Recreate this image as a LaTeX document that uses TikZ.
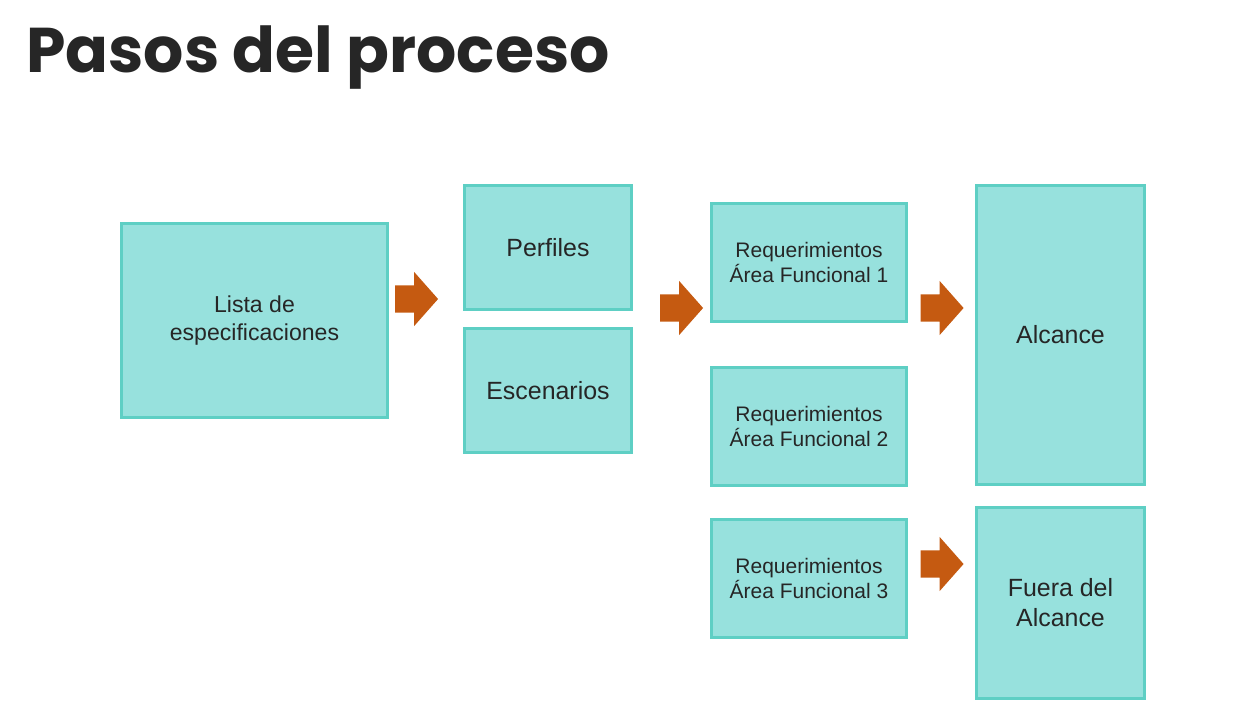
\documentclass[tikz,border=0pt]{standalone}
\usepackage{fontspec}
\setmainfont{Liberation Sans}
\newfontfamily\titlefont{Poppins}
\usepackage{xcolor}
\usetikzlibrary{shapes.arrows}
\definecolor{boxfill}{HTML}{97E1DD}
\definecolor{boxline}{HTML}{5ECFC4}
\definecolor{arrowc}{HTML}{C55A11}
\definecolor{textc}{HTML}{262626}
\def\u{0.75pt}

\begin{document}
\begin{tikzpicture}[x=0.75pt, y=-0.75pt]
\tikzset{
  base/.style={draw=boxline, fill=boxfill, line width=2.25pt, align=center, text=textc, inner sep=0pt},
  bigbox/.style={base, font=\fontsize{18.7}{22.5}\selectfont},
  reqbox/.style={base, minimum width=195*\u, minimum height=118*\u, font=\fontsize{15.75}{18.75}\selectfont},
  blockarrow/.style={single arrow, fill=arrowc, draw=none, inner xsep=0pt, inner ysep=10.1pt,
    minimum height=43*\u, minimum width=54*\u, single arrow head extend=10.1pt, single arrow tip angle=97},
}

\useasboundingbox (0,0) rectangle (1247,718);

\node [anchor=base west, text=textc, font=\titlefont\bfseries\fontsize{47.4}{52}\selectfont, inner sep=0pt] (title) at (26,72) {Pasos del proceso};

\node [base, minimum width=266*\u, minimum height=194*\u, font=\fontsize{17.3}{21}\selectfont] (lista) at (254.5,320.5) {Lista de\\especificaciones};

\node [bigbox, minimum width=167*\u, minimum height=124*\u] (perfiles) at (548,247.5) {Perfiles};
\node [bigbox, minimum width=167*\u, minimum height=124*\u] (escenarios) at (548,390.5) {Escenarios};

\node [reqbox] (req1) at (809,262.5) {Requerimientos\\Área Funcional 1};
\node [reqbox] (req2) at (809,426.5) {Requerimientos\\Área Funcional 2};
\node [reqbox] (req3) at (809,578.5) {Requerimientos\\Área Funcional 3};

\node [bigbox, minimum width=168*\u, minimum height=299*\u] (alcance) at (1060.5,335) {Alcance};
\node [bigbox, minimum width=168*\u, minimum height=191*\u] (fuera) at (1060.5,603) {Fuera del\\Alcance};

\node [blockarrow] (ar1) at (410.5,299) {};
\node [blockarrow] (ar2) at (675.5,308) {};
\node [blockarrow] (ar3) at (936,308) {};
\node [blockarrow] (ar4) at (936,564) {};
\end{tikzpicture}
\end{document}
